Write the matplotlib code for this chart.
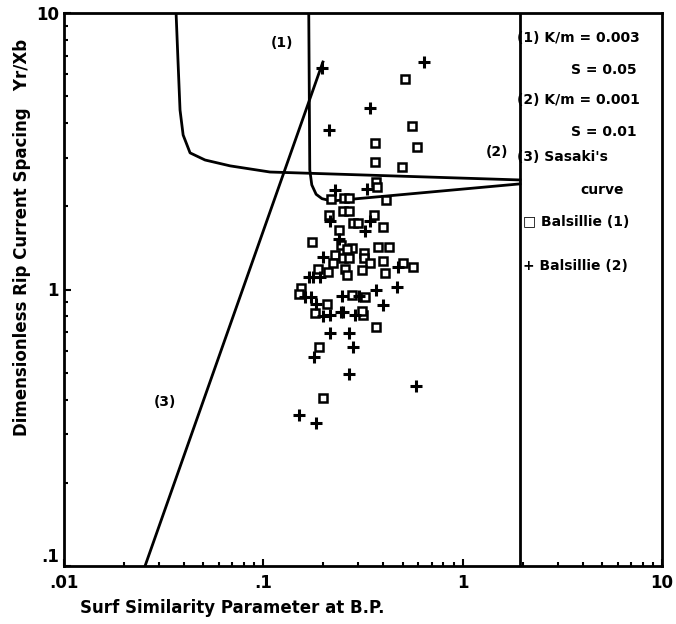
import matplotlib
matplotlib.use("Agg")
import matplotlib.pyplot as plt
from matplotlib.ticker import FixedLocator, FixedFormatter, LogLocator, NullFormatter

plt.rcParams['font.family'] = ['Liberation Sans Narrow', 'DejaVu Sans']

# Balsillie (1) - open squares
b1_x = [0.514, 0.557, 0.363, 0.590, 0.363, 0.497, 0.367, 0.372, 0.219, 0.254,
        0.269, 0.413, 0.251, 0.269, 0.214, 0.359, 0.282, 0.299, 0.399, 0.240,
        0.175, 0.245, 0.279, 0.263, 0.376, 0.427, 0.229, 0.251, 0.269, 0.320,
        0.320, 0.224, 0.343, 0.399, 0.502, 0.564, 0.188, 0.211, 0.257, 0.263,
        0.313, 0.408, 0.155, 0.151, 0.279, 0.324, 0.209, 0.182, 0.316, 0.313,
        0.367, 0.190, 0.199]
b1_y = [5.77, 3.90, 3.39, 3.28, 2.89, 2.77, 2.45, 2.35, 2.12, 2.14,
        2.14, 2.11, 1.92, 1.92, 1.86, 1.86, 1.74, 1.74, 1.68, 1.64,
        1.49, 1.45, 1.41, 1.40, 1.43, 1.43, 1.33, 1.30, 1.30, 1.36,
        1.30, 1.25, 1.25, 1.27, 1.25, 1.21, 1.19, 1.16, 1.19, 1.13,
        1.18, 1.15, 1.01, 0.964, 0.955, 0.939, 0.887, 0.822, 0.809, 0.836,
        0.732, 0.619, 0.405]

# Balsillie (2) - plus signs
b2_x = [0.640, 0.197, 0.343, 0.214, 0.331, 0.229, 0.216, 0.343, 0.324, 0.240,
        0.199, 0.474, 0.169, 0.177, 0.192, 0.162, 0.173, 0.367, 0.469, 0.248,
        0.302, 0.184, 0.399, 0.199, 0.216, 0.245, 0.251, 0.289, 0.216, 0.269,
        0.282, 0.180, 0.269, 0.583, 0.151, 0.184]
b2_y = [6.65, 6.32, 4.53, 3.78, 2.31, 2.29, 1.77, 1.77, 1.63, 1.52,
        1.31, 1.21, 1.11, 1.11, 1.11, 0.939, 0.939, 0.995, 1.02, 0.947,
        0.947, 0.887, 0.879, 0.802, 0.809, 0.830, 0.830, 0.809, 0.697, 0.697,
        0.619, 0.570, 0.495, 0.448, 0.352, 0.329]

# curve (1): K/m = 0.003, S = 0.05
c1_x = [0.169, 0.171, 0.175, 0.184, 0.197, 0.221, 1.94]
c1_y = [10.0, 2.71, 2.39, 2.21, 2.13, 2.09, 2.41]

# curve (2): K/m = 0.001, S = 0.01
c2_x = [0.0365, 0.0373, 0.0382, 0.0396, 0.0429, 0.0510, 0.0681, 0.108, 1.94]
c2_y = [10.0, 6.76, 4.46, 3.62, 3.12, 2.94, 2.80, 2.66, 2.49]

# curve (3): Sasaki
c3_x = [0.0255, 0.199]
c3_y = [0.1, 6.65]

x_right = 1.94

xticks = [0.01, 0.1, 1, 10]
xtick_labels = ['.01', '.1', '1', '10']
yticks = [0.1, 1, 10]
ytick_labels = ['.1', '1', '10']

fig = plt.figure(figsize=(6.76, 6.24), dpi=100)
ax = fig.add_axes([64 / 676, 1 - 566 / 624, 598 / 676, 553 / 624])

ax.plot(c1_x, c1_y, color='black', lw=2)
ax.plot(c2_x, c2_y, color='black', lw=2)
ax.plot(c3_x, c3_y, color='black', lw=2)
ax.plot([x_right, x_right], [0.1, 10], color='black', lw=2)

ax.plot(b1_x, b1_y, linestyle='none', marker='s', markersize=5.5,
        markerfacecolor='white', markeredgecolor='black', markeredgewidth=1.8)
ax.plot(b2_x, b2_y, linestyle='none', marker='+', markersize=8,
        color='black', markeredgewidth=2.2)

ax.set_xscale('log')
ax.set_yscale('log')
ax.set_xlim(0.01, 10)
ax.set_ylim(0.1, 10)

ax.xaxis.set_major_locator(FixedLocator(xticks))
ax.xaxis.set_major_formatter(FixedFormatter(xtick_labels))
ax.yaxis.set_major_locator(FixedLocator(yticks))
ax.yaxis.set_major_formatter(FixedFormatter(ytick_labels))
ax.xaxis.set_minor_locator(LogLocator(base=10, subs=range(2, 10)))
ax.yaxis.set_minor_locator(LogLocator(base=10, subs=range(2, 10)))
ax.xaxis.set_minor_formatter(NullFormatter())
ax.yaxis.set_minor_formatter(NullFormatter())
ax.tick_params(which='both', direction='in', width=1.5, labelsize=12)
ax.tick_params(which='major', length=5)
ax.tick_params(which='minor', length=3)
ax.tick_params(axis='x', pad=6)
for lab in ax.get_xticklabels() + ax.get_yticklabels():
    lab.set_fontweight('bold')
# lift the ".1" label so it sits above ".01" like the original
ax.yaxis.get_major_ticks()[0].label1.set_verticalalignment('bottom')
for sp in ax.spines.values():
    sp.set_linewidth(2)

tkw = dict(fontsize=10, fontweight='bold', transform=ax.transAxes, va='center')
ax.text(0.124, 7.79, '(1)', fontsize=10, fontweight='bold', ha='center', va='center')
ax.text(1.49, 3.14, '(2)', fontsize=10, fontweight='bold', ha='center', va='center')
ax.text(0.0321, 0.392, '(3)', fontsize=10, fontweight='bold', ha='center', va='center')

ax.text(0.757, 0.955, '(1) K/m = 0.003', ha='left', **tkw)
ax.text(0.958, 0.897, 'S = 0.05', ha='right', **tkw)
ax.text(0.757, 0.843, '(2) K/m = 0.001', ha='left', **tkw)
ax.text(0.958, 0.785, 'S = 0.01', ha='right', **tkw)
ax.text(0.757, 0.740, '(3) Sasaki\'s', ha='left', **tkw)
ax.text(0.936, 0.680, 'curve', ha='right', **tkw)
ax.text(0.768, 0.622, '\u25a1 Balsillie (1)', ha='left', **tkw)
ax.text(0.768, 0.542, '+ Balsillie (2)', ha='left', **tkw)

fig.text(22 / 676, 1 - 237 / 624, 'Dimensionless Rip Current Spacing   Yr/Xb',
         rotation=90, ha='center', va='center', fontsize=12, fontweight='bold')
fig.text(232 / 676, 1 - 608 / 624, 'Surf Similarity Parameter at B.P.',
         ha='center', va='center', fontsize=12, fontweight='bold')

fig.savefig('out.png', dpi=100)
